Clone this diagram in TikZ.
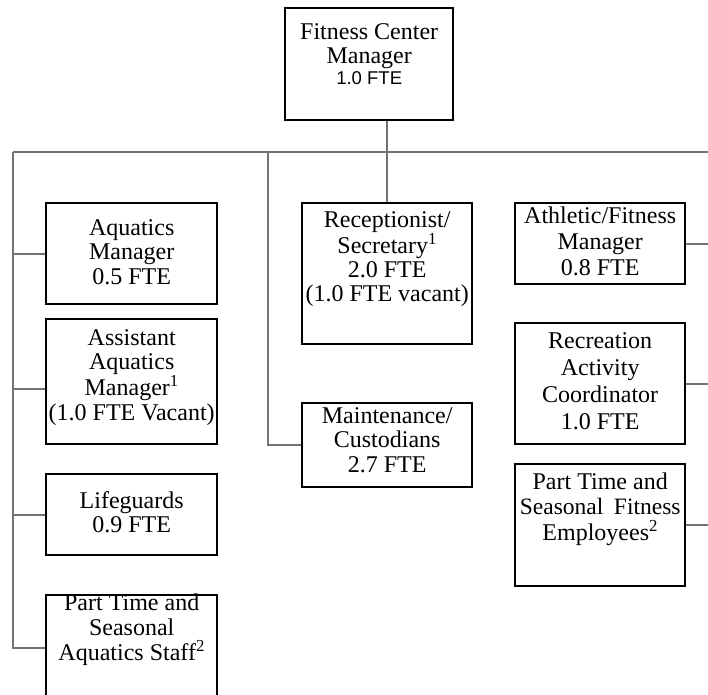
\documentclass[tikz,border=0pt]{standalone}
\usepackage{fontspec}
\setmainfont{Liberation Serif}
\newfontfamily\sansf{Liberation Sans}
\newcommand\bxt[4]{\parbox[c][#1][t]{#2}{\centering\vspace*{#3}#4\par}}
\begin{document}
\begin{tikzpicture}[x=1pt,y=-1pt,
  box/.style={draw=black,line width=2.4pt,inner sep=0pt,anchor=north west,
    font=\fontsize{24}{24.5}\selectfont},
  conn/.style={draw=black!55,line width=1.8pt}]
\useasboundingbox (0,0) rectangle (708,694);
\clip (0,0) rectangle (708,694);
\fill[white] (0,0) rectangle (708,694);
% spine coordinates
\coordinate (L) at (13,152);
\coordinate (M) at (268,152);
\coordinate (R) at (709,152);
% boxes
\node[box] (fcm) at (284,7) {\bxt{112pt}{168pt}{15pt}{Fitness Center\\Manager\\[-3.5pt]{\sansf\fontsize{18.5}{20}\selectfont 1.0 FTE}}};
\node[box] (aqm) at (45,202) {\bxt{101pt}{171pt}{16pt}{Aquatics\\Manager\\0.5 FTE}};
\node[box] (aam) at (45,318) {\bxt{125pt}{171pt}{10pt}{Assistant\\Aquatics\\Manager\textsuperscript{1}\\(1.0 FTE Vacant)}};
\node[box] (lif) at (45,473) {\bxt{81pt}{171pt}{17pt}{Lifeguards\\0.9 FTE}};
\node[box] (pta) at (45,594) {\bxt{106pt}{171pt}{-1pt}{\fontsize{24}{25}\selectfont Part Time and\\Seasonal\\Aquatics Staff\textsuperscript{2}}};
\node[box] (rec) at (301,202) {\bxt{141pt}{170pt}{8pt}{\fontsize{24}{24}\selectfont Receptionist/\\Secretary\textsuperscript{1}\\2.0 FTE\\(1.0 FTE vacant)}};
\node[box] (mnt) at (301,402) {\bxt{84pt}{170pt}{4pt}{Maintenance/\\Custodians\\2.7 FTE}};
\node[box] (ath) at (514,202) {\bxt{81pt}{170pt}{4pt}{\fontsize{24}{26}\selectfont Athletic/Fitness\\Manager\\0.8 FTE}};
\node[box] (rac) at (514,322) {\bxt{121pt}{170pt}{9pt}{\fontsize{24}{27}\selectfont Recreation\\Activity\\Coordinator\\1.0 FTE}};
\node[box] (ptf) at (514,463) {\bxt{122pt}{170pt}{9pt}{Part Time and\\{\fontsize{23.5}{24.5}\selectfont Seasonal\hspace{0.45em}Fitness}\\[1.5pt]Employees\textsuperscript{2}}};
% connectors
\draw[conn] (L) -- (R);
\draw[conn] (rec.north |- fcm.south) -- (rec.north);
\draw[conn] (L) |- (pta.west);
\draw[conn] (aqm.west) -- (aqm.west -| L);
\draw[conn] ([yshift=-7pt]aam.west) -- ([yshift=-7pt]aam.west -| L);
\draw[conn] (lif.west) -- (lif.west -| L);
\draw[conn] (M) |- (mnt.west);
\draw[conn] (ath.east) -- (ath.east -| R);
\draw[conn] (rac.east) -- (rac.east -| R);
\draw[conn] (ptf.east) -- (ptf.east -| R);
\end{tikzpicture}
\end{document}
